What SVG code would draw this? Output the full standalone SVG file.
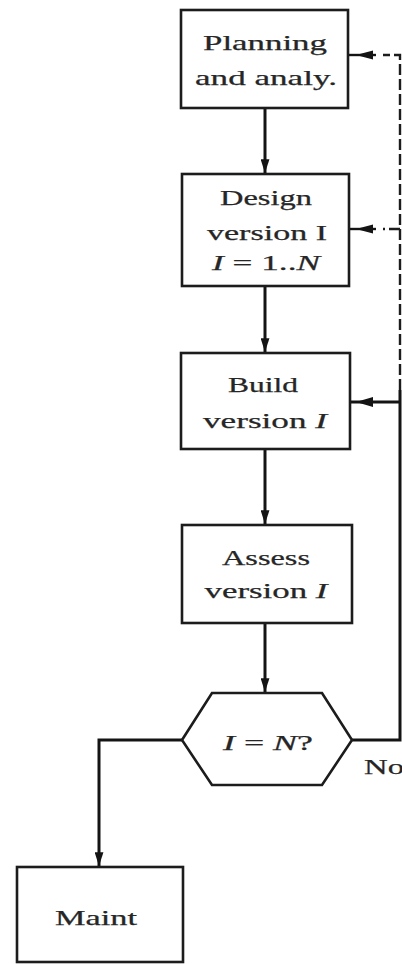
<svg xmlns="http://www.w3.org/2000/svg" width="402" height="964" viewBox="0 0 402 964">
<style>
.box{fill:#fff;stroke:#1c1c1c;stroke-width:2.6}
.t{font-family:"Liberation Serif","DejaVu Serif",serif;font-size:22px;fill:#262626;stroke:#262626;stroke-width:0.25;text-anchor:middle}
.it{font-style:italic}
.ln{fill:none;stroke:#141414;stroke-width:3}
.dash{fill:none;stroke:#1c1c1c;stroke-width:2.4;stroke-dasharray:11 4}
.ah{fill:#141414}
</style>
<defs>
<marker id="arr" viewBox="0 0 14 9" refX="14" refY="4.5" markerWidth="4.6" markerHeight="3" orient="auto" markerUnits="strokeWidth">
<path d="M0,0 L14,4.5 L0,9 Z" fill="#141414"/>
</marker>
</defs>
<rect width="402" height="964" fill="#fff"/>
<g id="connectors">
<path class="ln" d="M265,108 V173" marker-end="url(#arr)"/>
<path class="ln" d="M265,286 V352" marker-end="url(#arr)"/>
<path class="ln" d="M265,449 V524" marker-end="url(#arr)"/>
<path class="ln" d="M265,623 V692" marker-end="url(#arr)"/>
<path class="ln" d="M182,740 H99 V866" marker-end="url(#arr)"/>
<path class="ln" d="M352,740 H400 V390"/>
<path class="ln" d="M400,402 H350"/>
<polygon class="ah" points="356,402 373,397 373,407"/>
<path class="dash" d="M400,390 V55 H383"/>
<path class="ln" d="M349,55 H376" style="stroke-width:2.4"/>
<polygon class="ah" points="356,55 373,50.5 373,59.5"/>
<path class="dash" d="M400,229 H383"/>
<path class="ln" d="M349,229 H376" style="stroke-width:2.4"/>
<polygon class="ah" points="356,229 373,224.5 373,233.5"/>
<text class="t" x="384" y="774" textLength="40" lengthAdjust="spacingAndGlyphs">No</text>
</g>
<g id="planning">
<rect class="box" x="181" y="10" width="167" height="98"/>
<text class="t" x="265" y="50" textLength="124" lengthAdjust="spacingAndGlyphs">Planning</text>
<text class="t" x="266" y="85" textLength="142" lengthAdjust="spacingAndGlyphs">and analy.</text>
</g>
<g id="design">
<rect class="box" x="182" y="174" width="167" height="112"/>
<text class="t" x="266" y="205" textLength="92" lengthAdjust="spacingAndGlyphs">Design</text>
<text class="t" x="267" y="240" textLength="120" lengthAdjust="spacingAndGlyphs">version I</text>
<text class="t" x="266" y="270" textLength="108" lengthAdjust="spacingAndGlyphs"><tspan class="it">I</tspan> = 1..<tspan class="it">N</tspan></text>
</g>
<g id="build">
<rect class="box" x="181" y="353" width="169" height="96"/>
<text class="t" x="263" y="392" textLength="70" lengthAdjust="spacingAndGlyphs">Build</text>
<text class="t" x="265" y="428" textLength="124" lengthAdjust="spacingAndGlyphs">version <tspan class="it">I</tspan></text>
</g>
<g id="assess">
<rect class="box" x="182" y="525" width="170" height="98"/>
<text class="t" x="266" y="565" textLength="88" lengthAdjust="spacingAndGlyphs">Assess</text>
<text class="t" x="266" y="598" textLength="123" lengthAdjust="spacingAndGlyphs">version <tspan class="it">I</tspan></text>
</g>
<g id="decision">
<polygon class="box" points="182,740 212,693 322,693 352,740 322,785 212,785"/>
<text class="t" x="268" y="750" textLength="90" lengthAdjust="spacingAndGlyphs"><tspan class="it">I</tspan> = <tspan class="it">N</tspan>?</text>
</g>
<g id="maint">
<rect class="box" x="17" y="867" width="166" height="95"/>
<text class="t" x="96" y="925" textLength="82" lengthAdjust="spacingAndGlyphs">Maint</text>
</g>
</svg>
